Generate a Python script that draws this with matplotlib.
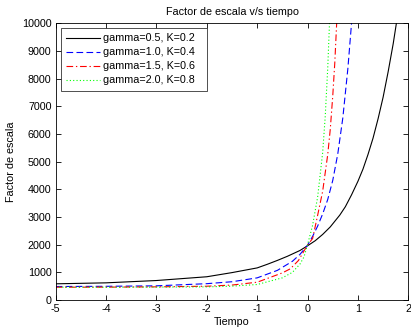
import matplotlib
matplotlib.use("Agg")
import matplotlib.pyplot as plt

plt.rcParams['font.family'] = ['Liberation Sans', 'DejaVu Sans']

# gamma=0.5, K=0.2
t_05 = [-5, -4, -3, -2, -1.5, -1, -0.8, -0.6, -0.4, -0.15, 0, 0.15, 0.3, 0.45, 0.64,
        0.75, 0.873, 1.0, 1.1, 1.2, 1.3, 1.4, 1.5, 1.6, 1.7, 1.766, 1.85]
a_05 = [585, 620, 704, 840, 990, 1160, 1290, 1430, 1580, 1790, 1960, 2140, 2370, 2640,
        3069, 3370, 3800, 4290, 4730, 5260, 5850, 6550, 7330, 8250, 9260, 10030, 11100]
# gamma=1.0, K=0.4
t_10 = [-5, -4, -3, -2, -1.5, -1, -0.6, -0.3, -0.15, 0, 0.1, 0.2, 0.3, 0.4, 0.5,
        0.6, 0.7, 0.8, 0.873, 0.92]
a_10 = [487, 495, 512, 590, 660, 800, 1070, 1400, 1650, 1980, 2300, 2670, 3110, 3630,
        4320, 5280, 6580, 8360, 10000, 11280]
# gamma=1.5, K=0.6
t_15 = [-5, -4, -3, -2, -1.5, -1, -0.5, -0.34, -0.18, 0, 0.1, 0.2, 0.3, 0.4,
        0.45, 0.5, 0.54, 0.58, 0.6]
a_15 = [462, 465, 475, 498, 540, 643, 980, 1130, 1430, 1990, 2220, 3060, 3930, 5250,
        6150, 7370, 8550, 10080, 10950]
# gamma=2.0, K=0.8
t_20 = [-5, -4, -3, -2, -1.5, -1, -0.5, -0.3, -0.15, -0.07, 0, 0.1, 0.2, 0.3,
        0.35, 0.4, 0.44, 0.47]
a_20 = [462, 462, 465, 475, 500, 560, 801, 1000, 1300, 1560, 2000, 2700, 3720, 5330,
        6610, 8360, 10210, 11920]

labels = ['gamma=0.5, K=0.2', 'gamma=1.0, K=0.4', 'gamma=1.5, K=0.6', 'gamma=2.0, K=0.8']
xticks = [-5, -4, -3, -2, -1, 0, 1, 2]
yticks = [0, 1000, 2000, 3000, 4000, 5000, 6000, 7000, 8000, 9000, 10000]

fs = 7.75
fig = plt.figure(figsize=(4.11, 3.30), dpi=100)
ax = fig.add_axes([55.7/411, 30/330, 352.6/411, 276.7/330])

lw = 0.8
ax.plot(t_05, a_05, color='k', lw=lw, linestyle='-', label=labels[0])
ax.plot(t_10, a_10, color='#0000ff', lw=lw, linestyle=(0, (6, 3)), label=labels[1])
ax.plot(t_15, a_15, color='#ff0000', lw=lw, linestyle=(0, (6, 2.5, 1.2, 2.5)), label=labels[2])
ax.plot(t_20, a_20, color='#00ff00', lw=lw, linestyle=(0, (1, 2)), label=labels[3])

ax.set_xlim(-5, 2)
ax.set_ylim(0, 10000)
ax.set_xticks(xticks)
ax.set_yticks(yticks)
ax.set_xticklabels([str(v) for v in xticks])
ax.set_yticklabels([str(v) for v in yticks])
ax.tick_params(direction='in', top=True, right=True, length=3.5, width=0.6,
               labelsize=fs, pad=3)
for s in ax.spines.values():
    s.set_linewidth(0.6)

ax.set_title('Factor de escala v/s tiempo', fontsize=fs, pad=6)
ax.set_xlabel('Tiempo', fontsize=fs, labelpad=2)
ax.set_ylabel('Factor de escala', fontsize=fs, labelpad=4)

leg = ax.legend(loc='upper left', bbox_to_anchor=(0.015, 0.0, 0.414, 0.983),
                mode='expand', fontsize=fs, frameon=True, fancybox=False,
                edgecolor='black', handlelength=3.1, handletextpad=0.28,
                borderaxespad=0.0, labelspacing=0.37, borderpad=0.5)
leg.get_frame().set_linewidth(0.6)

fig.savefig('out.png', dpi=100)
